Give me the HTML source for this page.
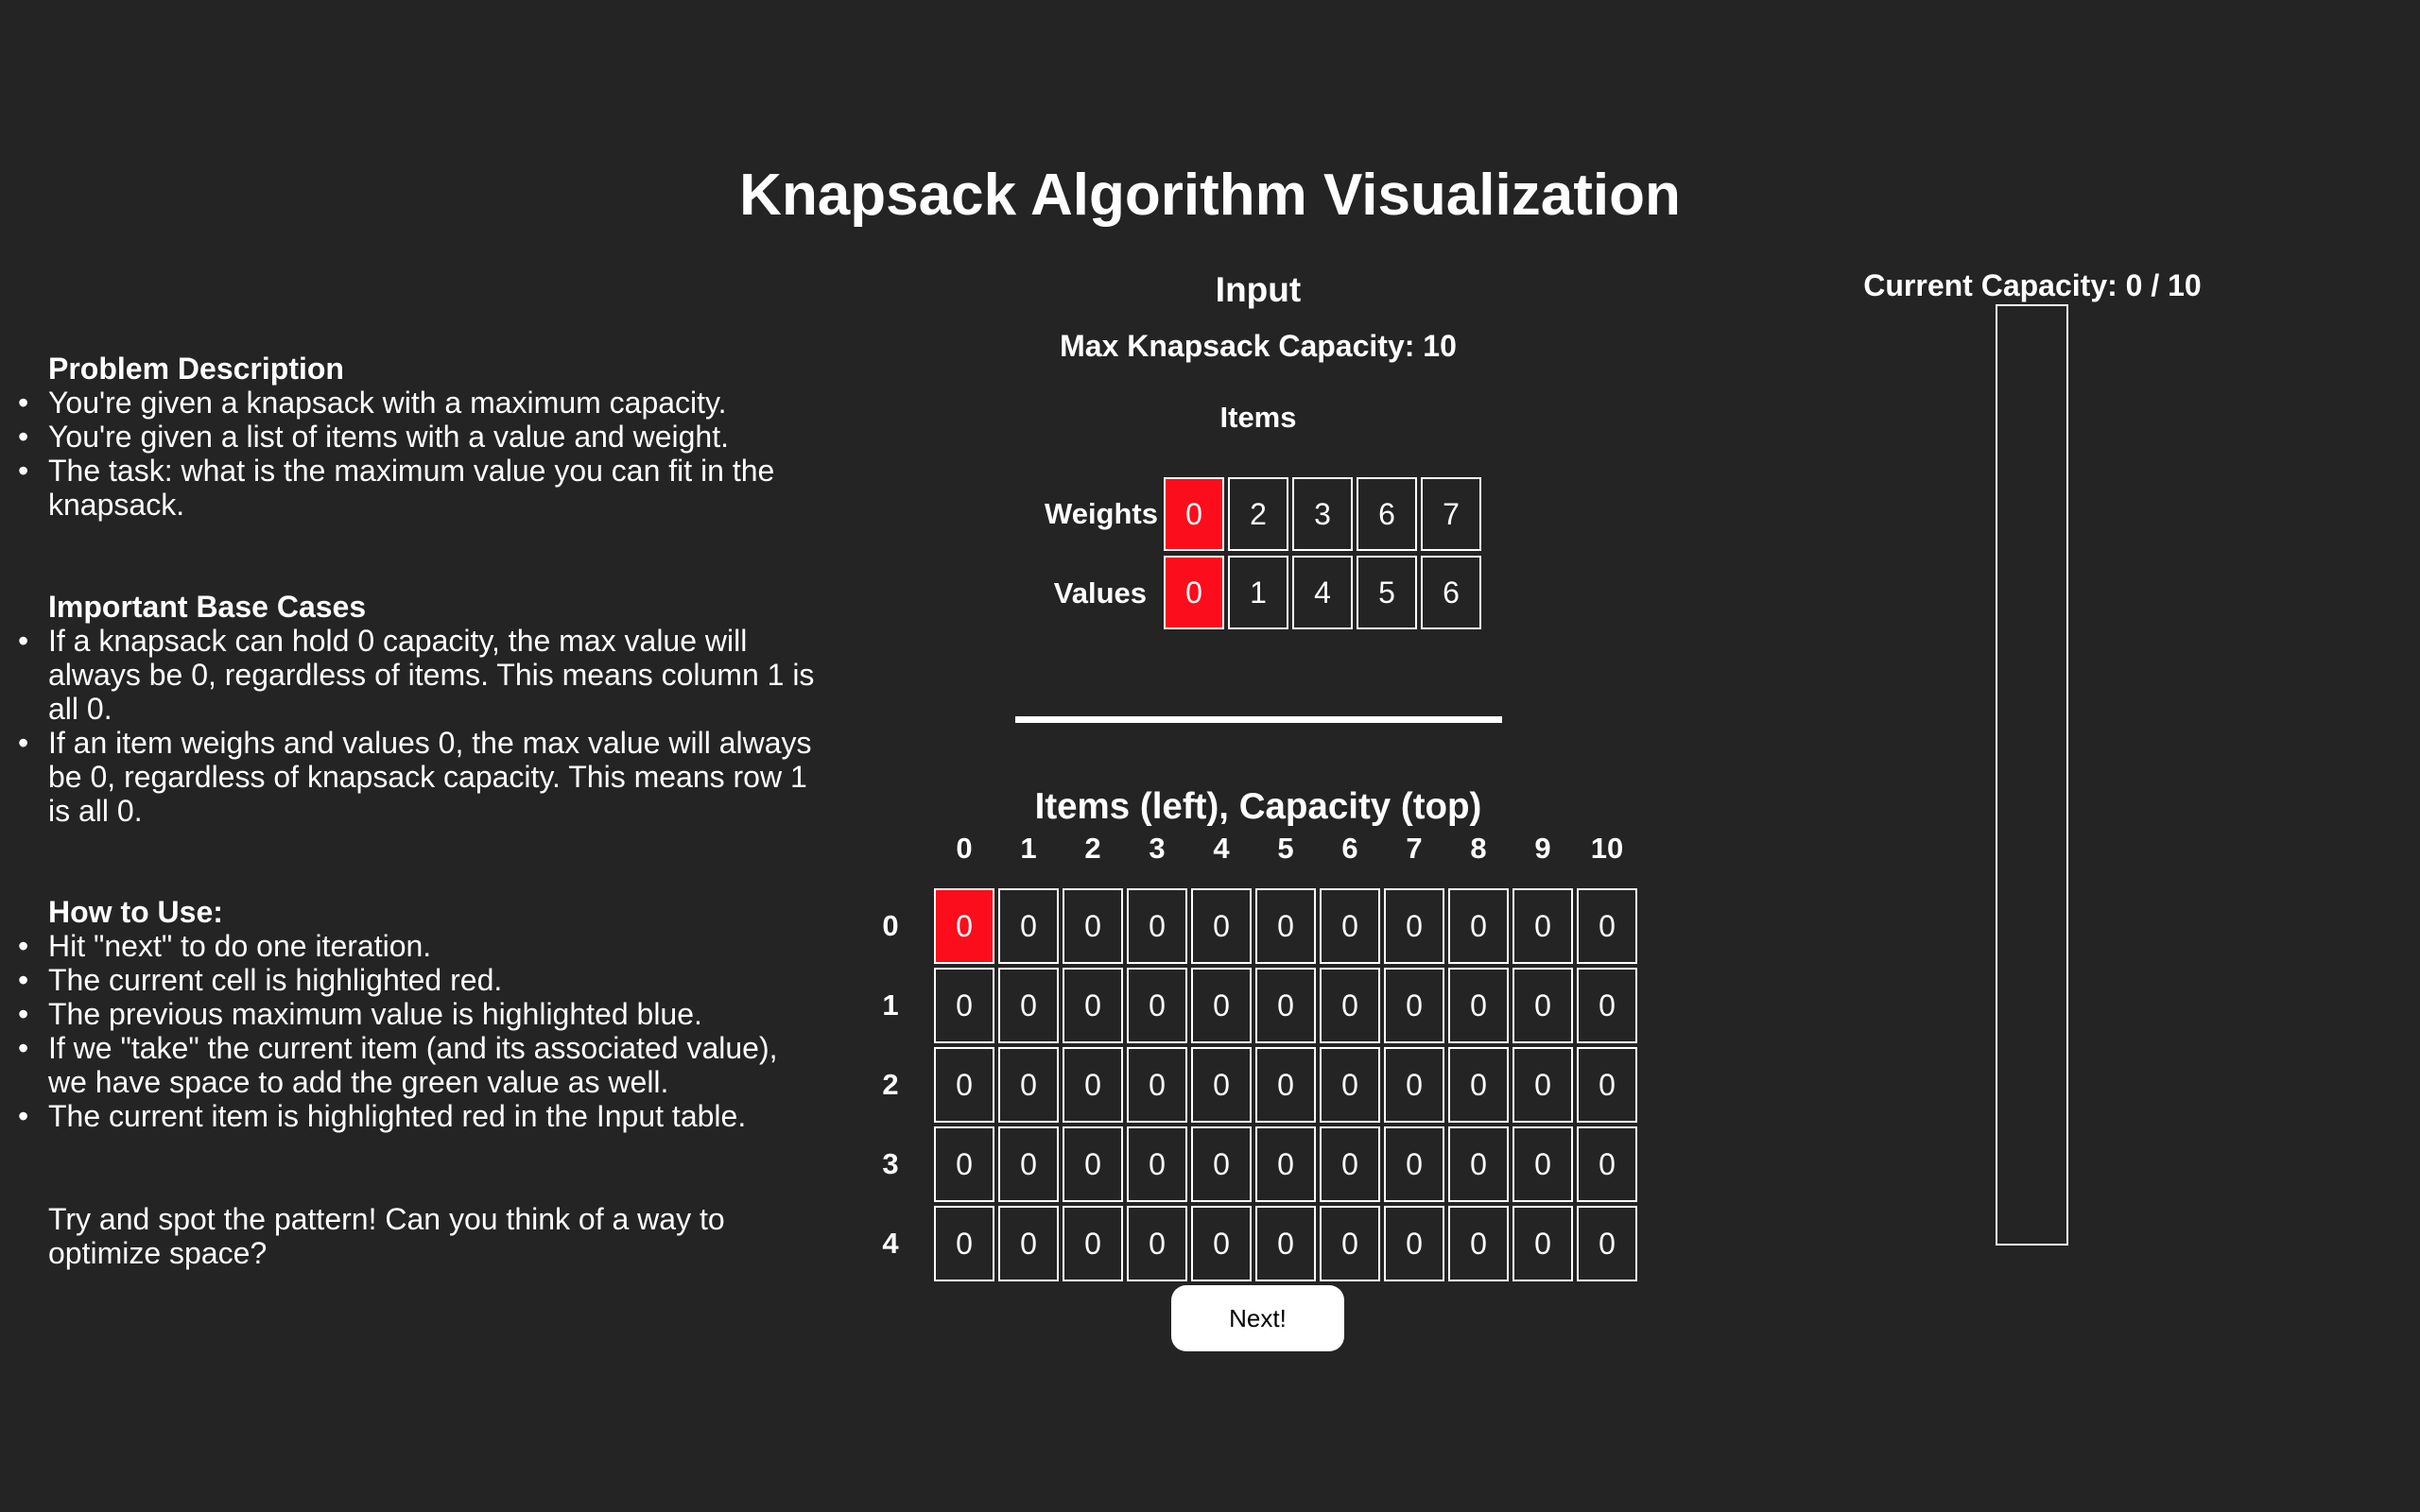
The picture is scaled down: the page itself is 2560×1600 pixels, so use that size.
<!DOCTYPE html>
<html><head><meta charset="utf-8"><style>
body{margin:0;width:2560px;height:1600px;background:#242424;color:#fff;font-family:"Liberation Sans",sans-serif;position:relative;overflow:hidden}
.a{position:absolute}
.c{position:absolute;box-sizing:border-box;border:2px solid #fff;width:64px;display:flex;align-items:center;justify-content:center;font-size:32px}
.r{background:#fc0d1b}
.h{position:absolute;font-weight:bold;text-align:center;transform:translateX(-50%);white-space:nowrap}
.sec{position:absolute;left:51px;font-size:32px;line-height:36px;white-space:nowrap}
.sec b{display:block}
.li{position:relative}
.li:before{content:"•";position:absolute;left:-32px}
</style></head><body>
<div class="h" style="left:1280px;top:171px;font-size:62px">Knapsack Algorithm Visualization</div>
<div class="h" style="left:1331px;top:286px;font-size:37px">Input</div>
<div class="h" style="left:1331px;top:348px;font-size:32px">Max Knapsack Capacity: 10</div>
<div class="h" style="left:1331px;top:424px;font-size:31px">Items</div>
<div class="a" style="right:1335px;top:526px;font-size:31px;font-weight:bold">Weights</div>
<div class="a" style="right:1347px;top:610px;font-size:31px;font-weight:bold">Values</div>
<div class="c r" style="left:1231px;top:505px;height:78px">0</div>
<div class="c" style="left:1299px;top:505px;height:78px">2</div>
<div class="c" style="left:1367px;top:505px;height:78px">3</div>
<div class="c" style="left:1435px;top:505px;height:78px">6</div>
<div class="c" style="left:1503px;top:505px;height:78px">7</div>
<div class="c r" style="left:1231px;top:588px;height:78px">0</div>
<div class="c" style="left:1299px;top:588px;height:78px">1</div>
<div class="c" style="left:1367px;top:588px;height:78px">4</div>
<div class="c" style="left:1435px;top:588px;height:78px">5</div>
<div class="c" style="left:1503px;top:588px;height:78px">6</div>
<div class="a" style="left:1074px;top:758px;width:515px;height:7px;background:#fff"></div>
<div class="h" style="left:1331px;top:832px;font-size:38.5px">Items (left), Capacity (top)</div>
<div id="g"></div>
<div class="a" style="left:1239px;top:1360px;width:183px;height:70px;background:#fff;border-radius:16px;color:#000;font-size:26px;display:flex;align-items:center;justify-content:center">Next!</div>
<div class="h" style="left:2150px;top:284px;font-size:32px">Current Capacity: 0 / 10</div>
<div class="a" style="left:2111px;top:322px;width:77px;height:996px;box-sizing:border-box;border:2px solid #fff"></div>

<div class="sec" style="top:372px"><b>Problem Description</b>
<div class="li">You're given a knapsack with a maximum capacity.</div>
<div class="li">You're given a list of items with a value and weight.</div>
<div class="li">The task: what is the maximum value you can fit in the<br>knapsack.</div></div>
<div class="sec" style="top:624px"><b>Important Base Cases</b>
<div class="li">If a knapsack can hold 0 capacity, the max value will<br>always be 0, regardless of items. This means column 1 is<br>all 0.</div>
<div class="li">If an item weighs and values 0, the max value will always<br>be 0, regardless of knapsack capacity. This means row 1<br>is all 0.</div></div>
<div class="sec" style="top:947px"><b>How to Use:</b>
<div class="li">Hit "next" to do one iteration.</div>
<div class="li">The current cell is highlighted red.</div>
<div class="li">The previous maximum value is highlighted blue.</div>
<div class="li">If we "take" the current item (and its associated value),<br>we have space to add the green value as well.</div>
<div class="li">The current item is highlighted red in the Input table.</div></div>
<div class="sec" style="top:1272px">Try and spot the pattern! Can you think of a way to<br>optimize space?</div>
<script>
var g='';
for(var i=0;i<=10;i++){g+='<div class="h" style="left:'+(1020+68*i)+'px;top:880px;font-size:31px">'+i+'</div>';}
for(var r=0;r<5;r++){
g+='<div class="h" style="left:942px;top:'+(962+84*r)+'px;font-size:31px">'+r+'</div>';
for(var i=0;i<=10;i++){g+='<div class="c'+(r==0&&i==0?' r':'')+'" style="left:'+(988+68*i)+'px;top:'+(940+84*r)+'px;height:80px">0</div>';}}
document.getElementById('g').innerHTML=g;
</script>
</body></html>
